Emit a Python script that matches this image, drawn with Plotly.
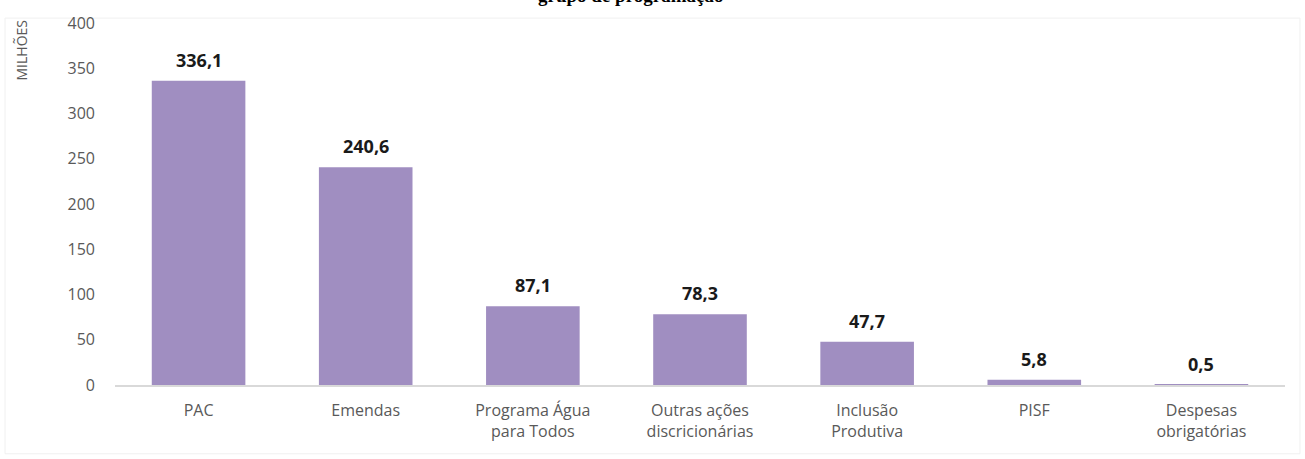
import plotly.graph_objects as go

categories = ["PAC", "Emendas", "Programa Água<br>para Todos", "Outras ações<br>discricionárias",
              "Inclusão<br>Produtiva", "PISF", "Despesas<br>obrigatórias"]
values = [336.1, 240.6, 87.1, 78.3, 47.7, 5.8, 0.5]
y_ticks = [0, 50, 100, 150, 200, 250, 300, 350, 400]

fig = go.Figure()
fig.add_trace(go.Bar(
    x=categories, y=values,
    marker=dict(color="#A08EC1", line=dict(width=0)),
))

for c, v in zip(categories, values):
    fig.add_annotation(x=c, y=v, text="<b>" + f"{v:.1f}".replace(".", ",") + "</b>",
                       showarrow=False, yanchor="bottom", yshift=7,
                       font=dict(family="Open Sans", size=18, color="#1a1a1a"))

fig.update_layout(
    width=1305, height=459,
    margin=dict(l=115, r=20, t=18, b=74),
    paper_bgcolor="white", plot_bgcolor="white",
    separators=",.",
    bargap=0.44,
    showlegend=False,
    font=dict(family="Open Sans", color="#595959", size=16),
)
fig.update_yaxes(range=[0, 400], tickvals=y_ticks, showgrid=False, zeroline=False,
                 showline=False, ticks="", ticklabelstandoff=19,
                 tickfont=dict(family="Open Sans", size=16, color="#595959"))
fig.update_xaxes(showline=True, linecolor="#D9D9D9", linewidth=1.5, ticks="",
                 ticklabelstandoff=10,
                 tickfont=dict(family="Open Sans", size=16, color="#595959"))

fig.add_annotation(text="MILHÕES", textangle=-90, xref="paper", yref="paper",
                   x=-0.080, y=1.0136, xanchor="center", yanchor="top", showarrow=False,
                   font=dict(family="Open Sans", size=14, color="#595959"))
fig.add_annotation(text="<b>grupo de programação</b>", xref="paper", yref="paper",
                   x=0.441, y=1.041, xanchor="center", yanchor="bottom", showarrow=False,
                   font=dict(family="Liberation Serif", size=19, color="#000000"))
fig.add_shape(type="rect", xref="paper", yref="paper",
              x0=-0.094, x1=1.0128, y0=-0.19, y1=1.0136,
              line=dict(color="#F0F0F0", width=1), layer="below")

fig.write_html("out.html")
